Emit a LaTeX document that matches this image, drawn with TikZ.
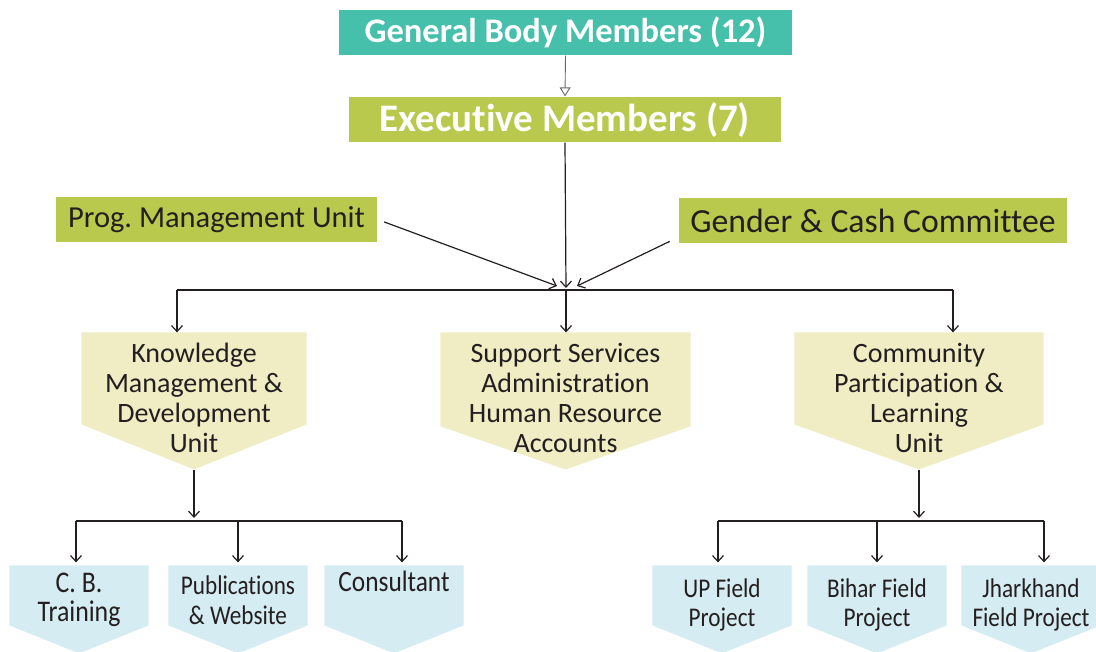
\documentclass[tikz,border=0pt]{standalone}
\usepackage{fontspec}
\setmainfont{Carlito}[Ligatures=NoCommon]
\newfontfamily\condfont[FakeStretch=0.86, Ligatures=NoCommon]{Carlito}
\usepackage{xcolor}
\usetikzlibrary{calc}
\usetikzlibrary{positioning}
\usetikzlibrary{arrows.meta}
\usetikzlibrary{backgrounds}
\definecolor{gbteal}{RGB}{70,191,171}
\definecolor{exlime}{RGB}{184,201,78}
\definecolor{unitcream}{RGB}{240,237,196}
\definecolor{projblue}{RGB}{213,236,242}
\definecolor{inkdark}{RGB}{35,31,32}

\begin{document}
\begin{tikzpicture}[x=1pt, y=-1pt, >={Straight Barb[length=6pt, width=11pt]}, line width=1.2pt, draw=inkdark]
    \tikzstyle{topbox}=[fill=gbteal, text=white, inner sep=0pt, minimum height=45pt, font=\bfseries\fontsize{34.5}{36}\selectfont]
    \tikzstyle{execbox}=[fill=exlime, text=white, inner sep=0pt, minimum height=45pt, font=\bfseries\fontsize{39}{40}\selectfont]
    \tikzstyle{sidebox}=[fill=exlime, text=inkdark, inner sep=0pt, minimum height=45pt, font=\fontsize{30.5}{32}\selectfont]
    \tikzstyle{unit}=[text=inkdark, inner sep=0pt, align=center, minimum height=130pt, font=\fontsize{28}{30}\selectfont]
    \tikzstyle{proj}=[text=inkdark, inner sep=0pt, align=center, minimum width=138pt, font=\condfont\fontsize{27}{29.5}\selectfont]

    \useasboundingbox (0,0) rectangle (1096,652);

    % top of the chart
    \node[topbox, minimum width=453pt] (gbm) at (565.5,32.5) {General Body Members (12)};
    \node[execbox, minimum width=432pt] (exm) at (565,119.5) {Executive Members (7)};
    \node[sidebox, minimum width=321pt] (pmu) at (216.5,219.5) {Prog.\ Management Unit};
    \node[sidebox, minimum width=388pt, font=\fontsize{33.7}{35}\selectfont] (gcc) at (873,221) {Gender \& Cash Committee};

    % units
    \node[unit, minimum width=224pt] (kmd) at (194,398) {Knowledge\\Management \&\\Development\\Unit};
    \node[unit, minimum width=249pt] (ssa) at (565.5,398) {Support Services\\Administration\\Human Resource\\Accounts};
    \node[unit, minimum width=248pt] (cpl) at (919,398) {Community\\Participation \&\\Learning\\Unit};

    % projects
    \node[proj, minimum height=68pt, font=\condfont\fontsize{30}{29.5}\selectfont] (cbt) at (79,600) {C.\ B.\\Training};
    \node[proj, minimum height=68pt] (pub) at (238,600) {Publications\\\& Website};
    \node[proj, minimum height=68pt, font=\condfont\fontsize{29.5}{29.5}\selectfont] (con) at (394,600) {Consultant\\\strut};
    \node[proj, minimum height=78pt] (upf) at (722,605) {UP Field\\Project};
    \node[proj, minimum height=78pt] (bhf) at (877,605) {Bihar Field\\Project};
    \node[proj, minimum height=78pt] (jhf) at (1031,605) {Jharkhand\\Field Project};

    % arrow shaped fills: shoulder and tip below the top edge
    \begin{scope}[on background layer]
        \foreach \n/\s/\t/\c in {kmd/92/137/unitcream, ssa/94/137/unitcream, cpl/92/137/unitcream, cbt/60/88/projblue, pub/60/88/projblue, con/60/88/projblue, upf/60/88/projblue, bhf/60/88/projblue, jhf/60/88/projblue}
            \fill[\c] (\n.north west) -- (\n.north east) -- ($(\n.north east)+(0,\s)$) -- ($(\n.north)+(0,\t)$) -- ($(\n.north west)+(0,\s)$) -- cycle;
    \end{scope}

    % junctions
    \coordinate (hub) at (566,290);
    \coordinate (hubL) at (177,290);
    \coordinate (hubR) at (953,290);
    \coordinate (kmdtip) at (194,470);
    \coordinate (cpltip) at (919,470);
    \coordinate (kmdj) at (194,521);
    \coordinate (cplj) at (919,521);

    \draw[-{Triangle[open, length=9pt, width=11pt]}, draw=black!60, line width=0.9pt] (gbm.south) -- (exm.north);
    \draw[->] (exm.south) -- ($(hub)+(0,-2)$);
    \draw[->, shorten <=7pt] (pmu.east) -- ($(hub)+(-9,-4)$);
    \draw[->, shorten <=3pt] ($(gcc.south west)+(-6,-4)$) -- ($(hub)+(11,-4)$);

    \draw (hubL) -- (hubR);
    \draw[->] (hubL) -- (hubL |- kmd.north);
    \draw[->] (hub) -- (hub |- ssa.north);
    \draw[->] (hubR) -- (hubR |- cpl.north);

    \draw[->] (kmdtip) -- ($(kmdj)+(0,-3)$);
    \draw ($(cbt.north |- kmdj)+(-3,0)$) -- ($(con.north |- kmdj)+(8,0)$);
    \draw[->] ($(cbt.north |- kmdj)+(-3,0)$) -- ($(cbt.north)+(-3,-3)$);
    \draw[->] (pub.north |- kmdj) -- ($(pub.north)+(0,-3)$);
    \draw[->] ($(con.north |- kmdj)+(8,0)$) -- ($(con.north)+(8,-3)$);

    \draw[->] (cpltip) -- ($(cplj)+(0,-3)$);
    \draw ($(upf.north |- cplj)+(-4,0)$) -- ($(jhf.north |- cplj)+(13,0)$);
    \draw[->] ($(upf.north |- cplj)+(-4,0)$) -- ($(upf.north)+(-4,-3)$);
    \draw[->] (bhf.north |- cplj) -- ($(bhf.north)+(0,-3)$);
    \draw[->] ($(jhf.north |- cplj)+(13,0)$) -- ($(jhf.north)+(13,-3)$);
\end{tikzpicture}
\end{document}
